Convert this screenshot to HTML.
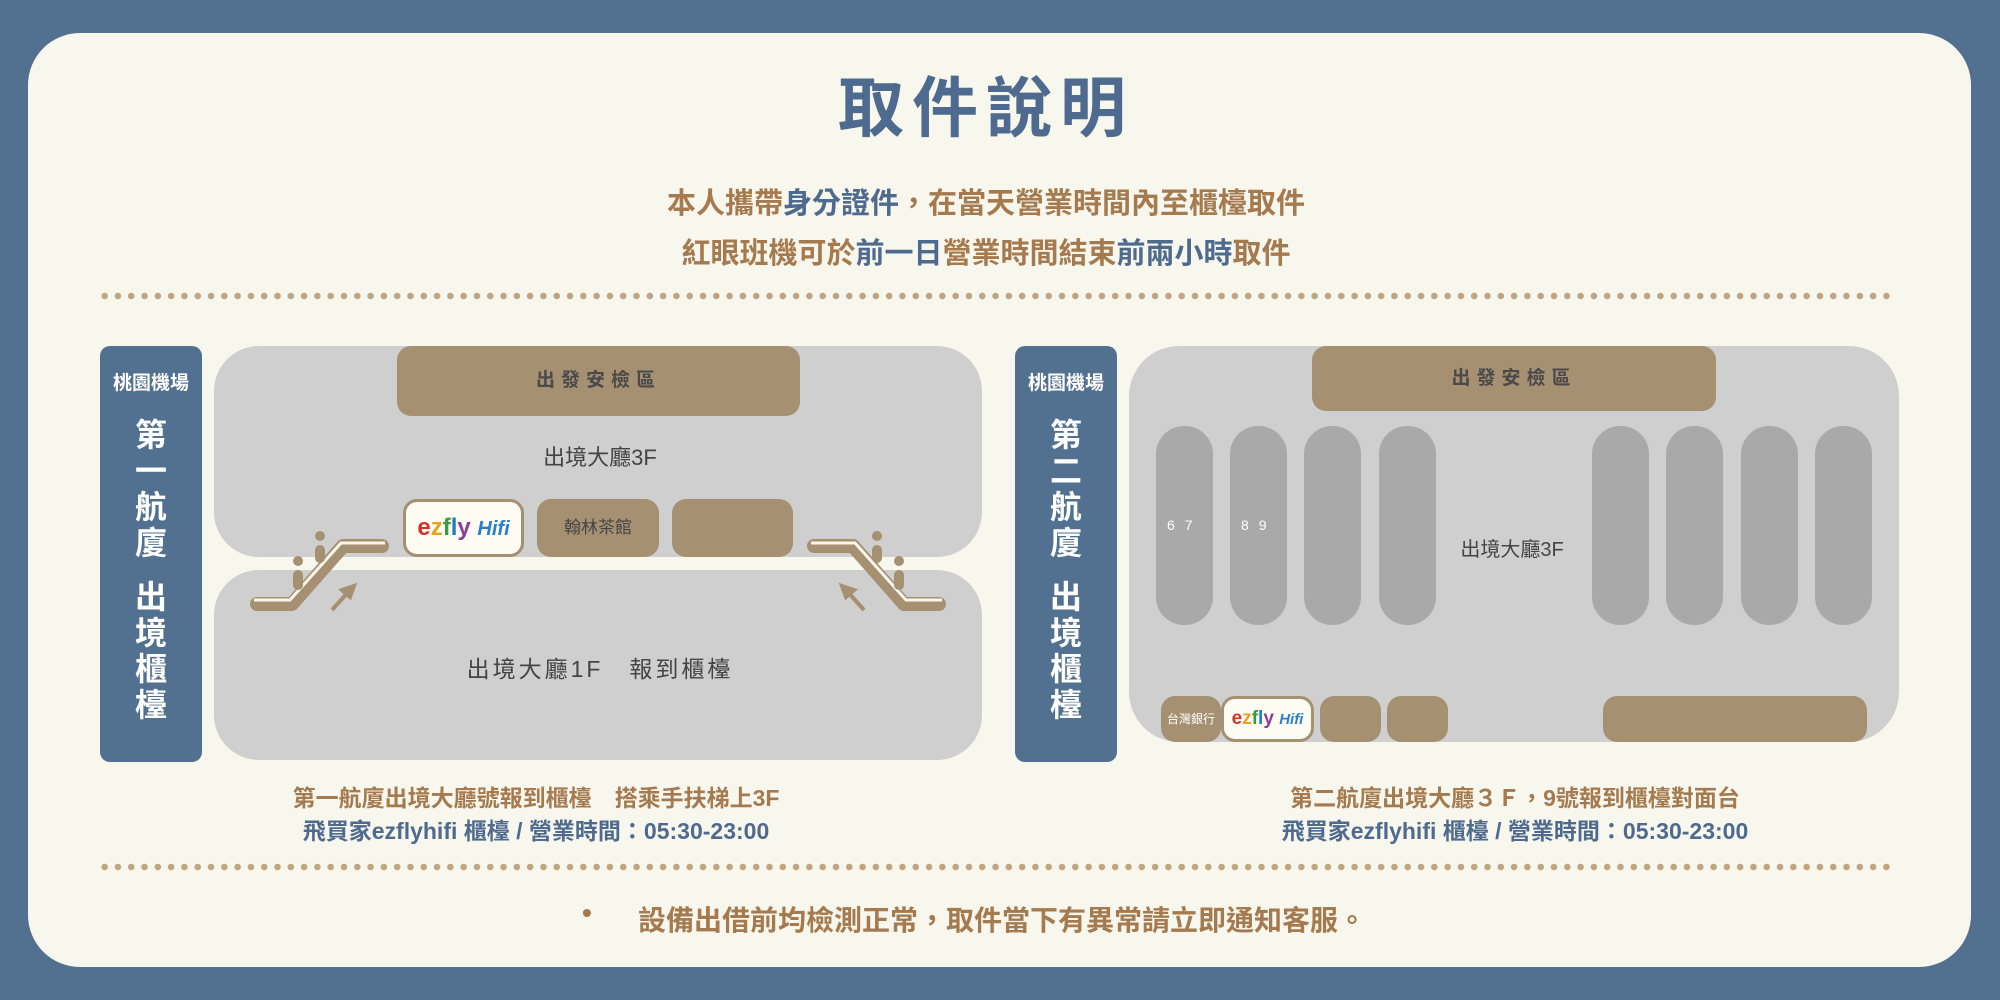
<!DOCTYPE html>
<html><head><meta charset="utf-8"><style>
*{margin:0;padding:0;box-sizing:border-box}
body{width:2000px;height:1000px;background:#52708f;position:relative;overflow:hidden;font-family:"Liberation Sans","Noto Sans CJK TC",sans-serif}
.abs{position:absolute}
.card{left:28px;top:33px;width:1943px;height:934px;background:#f8f7ee;border-radius:52px}
.c{text-align:center;white-space:nowrap}
.br{color:#a57a4e}.bl{color:#4e6a8e}
.dots{height:8px;background:radial-gradient(circle,#c1a583 3px,transparent 3.5px) 0 0/13.3px 8px repeat-x}
.tag{background:#52708f;border-radius:10px;color:#fff;font-weight:700}
.gray{background:#cfcfcf}
.box{background:#a69072;border-radius:14px}
.pil{background:#a9a9a9;border-radius:28px;width:57px;top:426px;height:199px}
.ez{background:#fdfcf3;border:3px solid #a69072;border-radius:14px;font-weight:700;font-size:24px}
.vt{color:#fff;font-weight:700;font-size:32px;line-height:36px}
</style></head><body>
<div class="abs card"></div>
<div class="abs c bl" style="left:0;width:1972px;top:68px;font-size:66px;font-weight:700;letter-spacing:8px;line-height:80px">取件說明</div>
<div class="abs c br" style="left:0;width:1972px;top:184px;font-size:29px;font-weight:700;line-height:40px">本人攜帶<span class="bl">身分證件</span>，在當天營業時間內至櫃檯取件</div>
<div class="abs c br" style="left:0;width:1972px;top:234px;font-size:29px;font-weight:700;line-height:40px">紅眼班機可於<span class="bl">前一日</span>營業時間結束<span class="bl">前兩小時</span>取件</div>
<div class="abs dots" style="left:98px;top:292px;width:1792px"></div>
<div class="abs dots" style="left:98px;top:863px;width:1792px"></div>

<!-- left -->
<div class="abs tag" style="left:100px;top:346px;width:102px;height:416px"></div>
<div class="abs c" style="left:100px;top:368px;width:102px;color:#fff;font-weight:700;font-size:19px">桃園機場</div>
<div class="abs c vt" style="left:100px;top:417px;width:102px">第<br>一<br>航<br>廈</div>
<div class="abs c vt" style="left:100px;top:579px;width:102px">出<br>境<br>櫃<br>檯</div>
<div class="abs gray" style="left:214px;top:346px;width:768px;height:211px;border-radius:45px"></div>
<div class="abs gray" style="left:214px;top:570px;width:768px;height:190px;border-radius:45px"></div>
<div class="abs box c" style="left:397px;top:346px;width:403px;height:70px;line-height:70px;font-size:19px;font-weight:700;color:#4a4a4a;letter-spacing:6px">出發安檢區</div>
<div class="abs c" style="left:440px;top:440px;width:320px;font-size:22px;color:#444">出境大廳3F</div>
<div class="abs ez c" style="left:403px;top:499px;width:121px;height:58px;line-height:52px"><span style="color:#d6312a">e</span><span style="color:#e8a21c">z</span><span style="color:#3a9b3f">f</span><span style="color:#1f7ac0">l</span><span style="color:#8a3d9a">y</span> <span style="color:#2a7fc9;font-style:italic;font-size:20px">Hifi</span></div>
<div class="abs box c" style="left:537px;top:499px;width:122px;height:58px;line-height:58px;font-size:17px;color:#444">翰林茶館</div>
<div class="abs box" style="left:672px;top:499px;width:121px;height:58px"></div>
<div class="abs c" style="left:400px;top:650px;width:400px;font-size:23px;color:#444;letter-spacing:3px">出境大廳1F　報到櫃檯</div>
<svg class="abs" style="left:0;top:0" width="1000" height="1000">
<g fill="none" stroke="#a69072" stroke-width="14" stroke-linejoin="round" stroke-linecap="round">
<polyline points="257,604 292,604 343,546 382,546"/>
<polyline points="939,604 904,604 853,546 814,546"/>
</g>
<g fill="none" stroke="#f8f7ee" stroke-width="3">
<polyline points="254,600 290,600 341,543 385,543"/>
<polyline points="942,600 906,600 855,543 811,543"/>
</g>
<g fill="#a69072"><circle cx="320" cy="536" r="5"/><rect x="315" y="545" width="10" height="18" rx="5"/>
<circle cx="298" cy="561" r="5"/><rect x="293" y="570" width="10" height="20" rx="5"/>
<circle cx="877" cy="536" r="5"/><rect x="872" y="545" width="10" height="18" rx="5"/>
<circle cx="899" cy="561" r="5"/><rect x="894" y="570" width="10" height="20" rx="5"/></g>
<g stroke="#a69072" stroke-width="4" fill="#a69072"><line x1="332" y1="610" x2="350" y2="590"/><polygon points="354,586 342,590 350,597"/>
<line x1="864" y1="610" x2="846" y2="590"/><polygon points="842,586 854,590 846,597"/></g>
</svg>
<div class="abs c br" style="left:236px;top:779px;width:600px;font-size:23px;font-weight:700">第一航廈出境大廳號報到櫃檯　搭乘手扶梯上3F</div>
<div class="abs c bl" style="left:236px;top:812px;width:600px;font-size:23px;font-weight:700">飛買家ezflyhifi 櫃檯 / 營業時間：05:30-23:00</div>

<!-- right -->
<div class="abs tag" style="left:1015px;top:346px;width:102px;height:416px"></div>
<div class="abs c" style="left:1015px;top:368px;width:102px;color:#fff;font-weight:700;font-size:19px">桃園機場</div>
<div class="abs c vt" style="left:1015px;top:417px;width:102px">第<br>二<br>航<br>廈</div>
<div class="abs c vt" style="left:1015px;top:579px;width:102px">出<br>境<br>櫃<br>檯</div>
<div class="abs gray" style="left:1129px;top:346px;width:770px;height:396px;border-radius:50px"></div>
<div class="abs box c" style="left:1312px;top:346px;width:404px;height:65px;line-height:65px;font-size:19px;font-weight:700;color:#4a4a4a;letter-spacing:6px">出發安檢區</div>
<div class="abs pil" style="left:1156px"></div><div class="abs pil" style="left:1230px"></div>
<div class="abs pil" style="left:1304px"></div><div class="abs pil" style="left:1379px"></div>
<div class="abs pil" style="left:1592px"></div><div class="abs pil" style="left:1666px"></div>
<div class="abs pil" style="left:1741px"></div><div class="abs pil" style="left:1815px"></div>
<div class="abs" style="left:1167px;top:517px;font-size:14px;color:#fff;letter-spacing:10px">67</div>
<div class="abs" style="left:1241px;top:517px;font-size:14px;color:#fff;letter-spacing:10px">89</div>
<div class="abs c" style="left:1412px;top:533px;width:200px;font-size:20px;color:#444">出境大廳3F</div>
<div class="abs box c" style="left:1161px;top:696px;width:60px;height:46px;line-height:46px;font-size:12px;color:#fff">台灣銀行</div>
<div class="abs ez c" style="left:1221px;top:696px;width:93px;height:46px;line-height:40px;font-size:19px"><span style="color:#d6312a">e</span><span style="color:#e8a21c">z</span><span style="color:#3a9b3f">f</span><span style="color:#1f7ac0">l</span><span style="color:#8a3d9a">y</span> <span style="color:#2a7fc9;font-style:italic;font-size:15px">Hifi</span></div>
<div class="abs box" style="left:1320px;top:696px;width:61px;height:46px"></div>
<div class="abs box" style="left:1387px;top:696px;width:61px;height:46px"></div>
<div class="abs box" style="left:1603px;top:696px;width:264px;height:46px"></div>
<div class="abs c br" style="left:1215px;top:779px;width:600px;font-size:23px;font-weight:700">第二航廈出境大廳３Ｆ，9號報到櫃檯對面台</div>
<div class="abs c bl" style="left:1215px;top:812px;width:600px;font-size:23px;font-weight:700">飛買家ezflyhifi 櫃檯 / 營業時間：05:30-23:00</div>

<div class="abs br" style="left:582px;top:897px;font-size:28px;font-weight:700">•</div>
<div class="abs br" style="left:638px;top:899px;font-size:28px;font-weight:700;white-space:nowrap">設備出借前均檢測正常，取件當下有異常請立即通知客服。</div>
</body></html>
